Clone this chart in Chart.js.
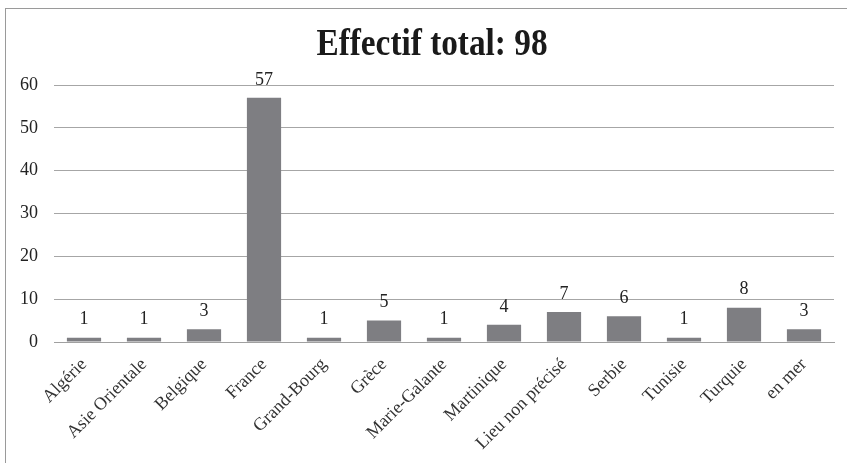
<!DOCTYPE html>
<html>
<head>
<meta charset="utf-8">
<script src="https://cdn.jsdelivr.net/npm/chart.js@4"></script>
<style>
    html, body { margin: 0; padding: 0; background: #fff; }
    #wrap { position: relative; width: 847px; height: 463px; overflow: hidden; }
    #frame { position: absolute; left: 5px; top: 8px; width: 900px; height: 500px;
             border-top: 1px solid #9a9a9a; border-left: 1px solid #9a9a9a; }
    canvas { position: absolute; left: 0; top: 0; }
</style>
</head>
<body>
<div id="wrap">
    <div id="frame"></div>
    <canvas id="myChart" width="847" height="463"></canvas>
</div>
<script>
const categories = ["Algérie", "Asie Orientale", "Belgique", "France", "Grand-Bourg", "Grèce",
    "Marie-Galante", "Martinique", "Lieu non précisé", "Serbie", "Tunisie", "Turquie", "en mer"];
const effectifs = [1, 1, 3, 57, 1, 5, 1, 4, 7, 6, 1, 8, 3];
const yTicks = [0, 10, 20, 30, 40, 50, 60];
const titleText = "Effectif total: 98";

const serif = "'Liberation Serif', 'Times New Roman', serif";

//Title in a narrow bold serif, drawn slightly condensed like the original
const condensedTitle = {
    id: "condensedTitle",
    afterDraw(chart) {
        const ctx = chart.ctx;
        ctx.save();
        ctx.font = "bold 37px " + serif;
        ctx.fillStyle = "#1a1a1a";
        ctx.textAlign = "center";
        ctx.textBaseline = "alphabetic";
        ctx.translate(432, 55);
        ctx.scale(0.9, 1);
        ctx.fillText(titleText, 0, 0);
        ctx.restore();
    },
};

//Draw the value above each bar
const valueLabels = {
    id: "valueLabels",
    afterDatasetsDraw(chart) {
        const ctx = chart.ctx;
        const meta = chart.getDatasetMeta(0);
        ctx.save();
        ctx.font = "18px " + serif;
        ctx.fillStyle = "#222";
        ctx.textAlign = "center";
        ctx.textBaseline = "bottom";
        meta.data.forEach(function (bar, i) {
            ctx.fillText(effectifs[i], bar.x, bar.y - 9);
        });
        ctx.restore();
    },
};

const data = {
    labels: categories,
    datasets: [
        {
            data: effectifs,
            backgroundColor: "#7e7e82",
            barPercentage: 0.57,
            categoryPercentage: 1,
        },
    ],
};

const config = {
    type: "bar",
    data: data,
    plugins: [valueLabels, condensedTitle],
    options: {
        responsive: false,
        animation: false,
        layout: { padding: { left: 0, right: 13, top: 85, bottom: 0 } },
        plugins: {
            legend: { display: false },
            tooltip: { enabled: false },
            title: { display: false },
        },
        scales: {
            x: {
                grid: { display: false, drawTicks: false },
                border: { display: true, color: "#a0a0a0" },
                ticks: {
                    minRotation: 45,
                    maxRotation: 45,
                    color: "#333",
                    padding: 12,
                    font: { family: serif, size: 18 },
                },
                afterFit(scale) { scale.height = 121; },
            },
            y: {
                min: 0,
                max: 60,
                afterBuildTicks(scale) { scale.ticks = yTicks.map(v => ({ value: v })); },
                grid: { color: "#a6a6a6", drawTicks: false },
                border: { display: false },
                ticks: {
                    color: "#222",
                    padding: 16,
                    font: { family: serif, size: 18 },
                },
                afterFit(scale) { scale.width = 54; },
            },
        },
    },
};

const myChart = new Chart(document.querySelector("#myChart"), config);
</script>
</body>
</html>
